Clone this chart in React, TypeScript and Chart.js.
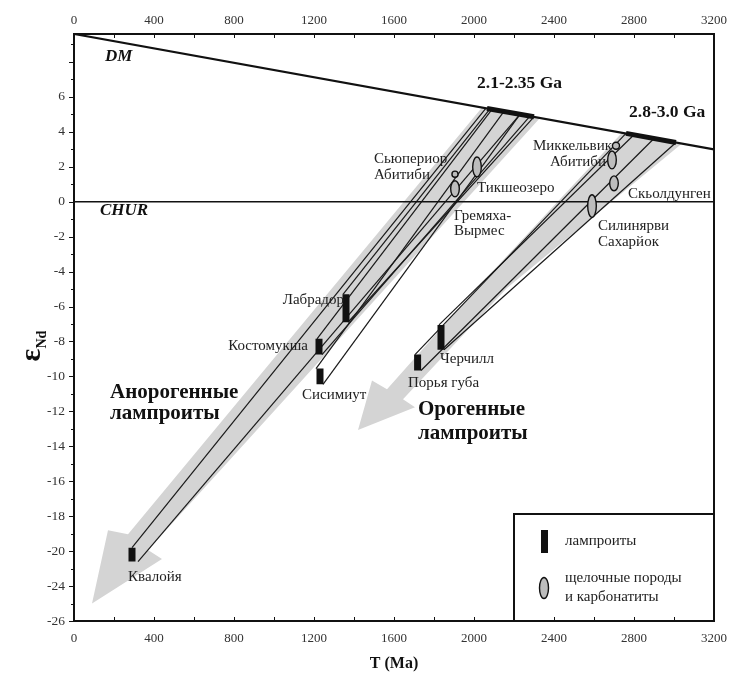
import React, { useEffect, useRef } from 'react';
import { Chart, registerables } from 'chart.js';
Chart.register(...registerables);

const FONT = '"Liberation Serif", "Times New Roman", serif';

// axis ticks (the original figure mislabels the two lowest ticks)
const xTickValues = [0, 400, 800, 1200, 1600, 2000, 2400, 2800, 3200];
const yTickValues = [-24, -22, -20, -18, -16, -14, -12, -10, -8, -6, -4, -2, 0, 2, 4, 6];
const yTickLabels = ['-26', '-24', '-20', '-18', '-16', '-14', '-12', '-10', '-8', '-6', '-4', '-2', '0', '2', '4', '6'];

// reference curves
const dmT = [0, 3200];
const dmEps = [9.6, 3.0];
const churT = [0, 3200];
const churEps = [0, 0];

// model-age intervals on DM
const dmBarStartT = [2065, 2760];
const dmBarStartEps = [5.34, 3.91];
const dmBarEndT = [2300, 3010];
const dmBarEndEps = [4.86, 3.39];

// lamproites (vertical bars)
const lampT = [290, 1225, 1360, 1230, 1718, 1835];
const lampEpsTop = [-19.8, -7.85, -5.3, -9.55, -8.75, -7.05];
const lampEpsBot = [-20.6, -8.75, -6.9, -10.45, -9.66, -8.47];

// Nd evolution lines (sample -> DM)
const evoStartT = [290, 320, 1345, 1370, 1215, 1240, 1210, 1245, 1705, 1735, 1825, 1850];
const evoStartEps = [-19.8, -20.6, -5.3, -6.9, -7.85, -8.75, -9.55, -10.45, -8.75, -9.66, -7.05, -8.47];
const evoEndT = [2060, 2230, 2080, 2300, 2090, 2280, 2150, 2230, 2760, 2900, 2800, 3010];
const evoEndEps = [5.35, 5.0, 5.31, 4.86, 5.29, 4.9, 5.17, 5.0, 3.91, 3.62, 3.83, 3.39];

// gray trend arrows (polygon vertices)
const anoArrowT = [2040, 2330, 370, 440, 90, 170, 270, 2040];
const anoArrowEps = [5.39, 4.79, -19.94, -20.45, -23.0, -18.8, -19.03, 5.39];
const oroArrowT = [2740, 3040, 2165, 1645, 1705, 1420, 1490, 1565, 2015, 2740];
const oroArrowEps = [3.95, 3.33, -4.94, -11.31, -11.76, -13.07, -10.23, -10.74, -4.94, 3.95];

// alkaline rocks and carbonatites (ellipses)
const alkT = [1905, 1905, 2015, 2710, 2690, 2700, 2590];
const alkEpsTop = [1.2, 1.75, 2.56, 3.4, 2.9, 1.48, 0.4];
const alkEpsBot = [0.28, 1.4, 1.42, 3.0, 1.88, 0.63, -0.9];

// text labels
const labelText = ['Лабрадор', 'Костомукша', 'Сисимиут', 'Черчилл', 'Порья губа', 'Квалойя',
  'Сьюпериор', 'Абитиби', 'Тикшеозеро', 'Гремяха-', 'Вырмес', 'Миккельвик', 'Абитиби',
  'Скьолдунген', 'Силинярви', 'Сахарйок'];
const labelT = [1350, 1170, 1140, 1830, 1670, 270, 1500, 1500, 2015, 1900, 1900, 2295, 2380, 2770, 2620, 2620];
const labelEps = [-5.63, -8.24, -11.08, -9.03, -10.4, -21.5, 2.44, 1.53, 0.8, -0.8, -1.7, 3.18, 2.27, 0.45, -1.42, -2.33];
const labelAlign = ['right', 'right', 'left', 'left', 'left', 'left', 'left', 'left', 'left', 'left', 'left', 'left', 'left', 'left', 'left', 'left'];

const boldText = ['2.1-2.35 Ga', '2.8-3.0 Ga', 'Анорогенные', 'лампроиты', 'Орогенные', 'лампроиты'];
const boldT = [2015, 2775, 180, 180, 1720, 1720];
const boldEps = [6.76, 5.11, -10.9, -12.1, -11.9, -13.3];

const italicText = ['DM', 'CHUR'];
const italicT = [155, 130];
const italicEps = [8.3, -0.5];

const seg = (t0: number, e0: number, t1: number, e1: number) => [{ x: t0, y: e0 }, { x: t1, y: e1 }];
const poly = (ts: number[], es: number[]) => ts.map((t, i) => ({ x: t, y: es[i] }));

const overlay = {
  id: 'overlay',
  afterDatasetsDraw(chart: any) {
    const { ctx, chartArea: a, scales } = chart;
    const xs = scales.x, ys = scales.y;
    ctx.save();
    // ellipses
    for (let i = 0; i < alkT.length; i++) {
      const cx = xs.getPixelForValue(alkT[i]);
      const y0 = ys.getPixelForValue(alkEpsTop[i]);
      const y1 = ys.getPixelForValue(alkEpsBot[i]);
      const ry = (y1 - y0) / 2;
      const rx = Math.min(4.3, ry);
      ctx.beginPath();
      ctx.ellipse(cx, (y0 + y1) / 2, rx, ry, 0, 0, Math.PI * 2);
      ctx.fillStyle = '#bdbdbd';
      ctx.fill();
      ctx.lineWidth = 1.4;
      ctx.strokeStyle = '#111';
      ctx.stroke();
    }
    // labels
    ctx.textBaseline = 'middle';
    ctx.fillStyle = '#222';
    ctx.font = `15px ${FONT}`;
    labelText.forEach((s, i) => {
      ctx.textAlign = labelAlign[i];
      ctx.fillText(s, xs.getPixelForValue(labelT[i]), ys.getPixelForValue(labelEps[i]));
    });
    ctx.textAlign = 'left';
    ctx.fillStyle = '#111';
    boldText.forEach((s, i) => {
      ctx.font = i < 2 ? `bold 17.5px ${FONT}` : `bold 21px ${FONT}`;
      ctx.fillText(s, xs.getPixelForValue(boldT[i]), ys.getPixelForValue(boldEps[i]));
    });
    ctx.font = `italic bold 17px ${FONT}`;
    italicText.forEach((s, i) => {
      ctx.fillText(s, xs.getPixelForValue(italicT[i]), ys.getPixelForValue(italicEps[i]));
    });

    // legend
    const lx = xs.getPixelForValue(2200);
    const ly = a.bottom - 107;
    ctx.fillStyle = '#fff';
    ctx.fillRect(lx, ly, a.right - lx, a.bottom - ly);
    ctx.lineWidth = 2;
    ctx.strokeStyle = '#111';
    ctx.strokeRect(lx, ly, a.right - lx, a.bottom - ly);
    ctx.fillStyle = '#111';
    ctx.fillRect(lx + 27, ly + 16, 7, 23);
    ctx.beginPath();
    ctx.ellipse(lx + 30, ly + 74, 4.5, 10.5, 0, 0, Math.PI * 2);
    ctx.fillStyle = '#bdbdbd';
    ctx.fill();
    ctx.lineWidth = 1.4;
    ctx.stroke();
    ctx.fillStyle = '#222';
    ctx.font = `15px ${FONT}`;
    ctx.textAlign = 'left';
    ctx.fillText('лампроиты', lx + 51, ly + 27);
    ctx.fillText('щелочные породы', lx + 51, ly + 64);
    ctx.fillText('и карбонатиты', lx + 51, ly + 83);
    ctx.restore();
  },
  afterDraw(chart: any) {
    const { ctx, chartArea: a, scales } = chart;
    const xs = scales.x, ys = scales.y;
    ctx.save();
    ctx.strokeStyle = '#111';
    ctx.lineWidth = 2;
    ctx.strokeRect(a.left, a.top, a.right - a.left, a.bottom - a.top);
    ctx.lineWidth = 1;
    ctx.beginPath();
    for (let v = -24; v <= 9; v++) {
      const y = Math.round(ys.getPixelForValue(v)) + 0.5;
      const len = v % 2 === 0 ? 5 : 3;
      ctx.moveTo(a.left - len, y);
      ctx.lineTo(a.left, y);
    }
    for (let t = 200; t < 3200; t += 200) {
      const x = Math.round(xs.getPixelForValue(t)) + 0.5;
      ctx.moveTo(x, a.top);
      ctx.lineTo(x, a.top + 4);
      ctx.moveTo(x, a.bottom);
      ctx.lineTo(x, a.bottom - 4);
    }
    ctx.stroke();
    // y title: epsilon Nd
    ctx.translate(32, 345);
    ctx.rotate(-Math.PI / 2);
    ctx.fillStyle = '#111';
    ctx.textBaseline = 'alphabetic';
    ctx.textAlign = 'left';
    ctx.font = `bold 30px ${FONT}`;
    const w = ctx.measureText('ε').width;
    ctx.fillText('ε', -(w + 20) / 2, 8);
    ctx.font = `bold 14px ${FONT}`;
    ctx.fillText('Nd', -(w + 20) / 2 + w, 14);
    ctx.restore();
  },
};

export default function App() {
  const ref = useRef<HTMLCanvasElement>(null);
  useEffect(() => {
    const datasets: any[] = [];
    datasets.push({ data: poly(anoArrowT, anoArrowEps), fill: 'shape', backgroundColor: '#d4d4d4', borderWidth: 0, pointRadius: 0, order: 10 });
    datasets.push({ data: poly(oroArrowT, oroArrowEps), fill: 'shape', backgroundColor: '#d4d4d4', borderWidth: 0, pointRadius: 0, order: 10 });
    evoStartT.forEach((t, i) => {
      datasets.push({ data: seg(t, evoStartEps[i], evoEndT[i], evoEndEps[i]), borderColor: '#1a1a1a', borderWidth: 1.2, pointRadius: 0, order: 8 });
    });
    datasets.push({ data: seg(dmT[0], dmEps[0], dmT[1], dmEps[1]), borderColor: '#111', borderWidth: 2.2, pointRadius: 0, order: 6 });
    datasets.push({ data: seg(churT[0], churEps[0], churT[1], churEps[1]), borderColor: '#111', borderWidth: 1.6, pointRadius: 0, order: 6 });
    dmBarStartT.forEach((t, i) => {
      datasets.push({ data: seg(t, dmBarStartEps[i], dmBarEndT[i], dmBarEndEps[i]), borderColor: '#111', borderWidth: 5, borderCapStyle: 'butt', pointRadius: 0, order: 4 });
    });
    lampT.forEach((t, i) => {
      datasets.push({ data: seg(t, lampEpsTop[i], t, lampEpsBot[i]), borderColor: '#111', borderWidth: 7, borderCapStyle: 'butt', pointRadius: 0, order: 2 });
    });

    const tickFont = { family: FONT, size: 13 };
    const noPad = (s: any) => { s.paddingLeft = 0; s.paddingRight = 0; };
    const chart = new Chart(ref.current!, {
      type: 'line',
      data: { datasets },
      options: {
        animation: false,
        responsive: false,
        events: [],
        layout: { padding: { left: 0, right: 17, top: 0, bottom: 0 } },
        plugins: { legend: { display: false }, tooltip: { enabled: false } },
        scales: {
          x: {
            type: 'linear', position: 'bottom', min: 0, max: 3200,
            afterBuildTicks: (s: any) => { s.ticks = xTickValues.map((v) => ({ value: v })); },
            ticks: { font: tickFont, color: '#333', padding: 1.5, maxRotation: 0, autoSkip: false, callback: (v: any) => String(v) },
            grid: { display: false }, border: { display: false },
            title: { display: true, text: 'T (Ma)', font: { family: FONT, size: 16, weight: 'bold' }, color: '#111', padding: { top: 0, bottom: 5 } },
            afterFit: (s: any) => { s.height = 57; noPad(s); },
          },
          x2: {
            type: 'linear', position: 'top', min: 0, max: 3200,
            afterBuildTicks: (s: any) => { s.ticks = xTickValues.map((v) => ({ value: v })); },
            ticks: { font: tickFont, color: '#333', padding: -2.5, maxRotation: 0, autoSkip: false, callback: (v: any) => String(v) },
            grid: { display: false }, border: { display: false },
            afterFit: (s: any) => { s.height = 34; noPad(s); },
          },
          y: {
            type: 'linear', position: 'left', min: -24, max: 9.6,
            afterBuildTicks: (s: any) => { s.ticks = yTickValues.map((v) => ({ value: v })); },
            ticks: {
              font: { family: FONT, size: 13.5 }, color: '#333', padding: 1, autoSkip: false,
              callback: (v: any) => { const k = yTickValues.indexOf(Number(v)); return k >= 0 ? yTickLabels[k] : ''; },
            },
            grid: { display: false }, border: { display: false },
            afterFit: (s: any) => { s.width = 74; s.paddingTop = 0; s.paddingBottom = 0; },
          },
        },
      } as any,
      plugins: [overlay],
    });
    return () => chart.destroy();
  }, []);
  return (
    <div style={{ position: 'absolute', left: 0, top: 0, width: 731, height: 678, background: '#fff' }}>
      <canvas ref={ref} width={731} height={678} />
    </div>
  );
}
